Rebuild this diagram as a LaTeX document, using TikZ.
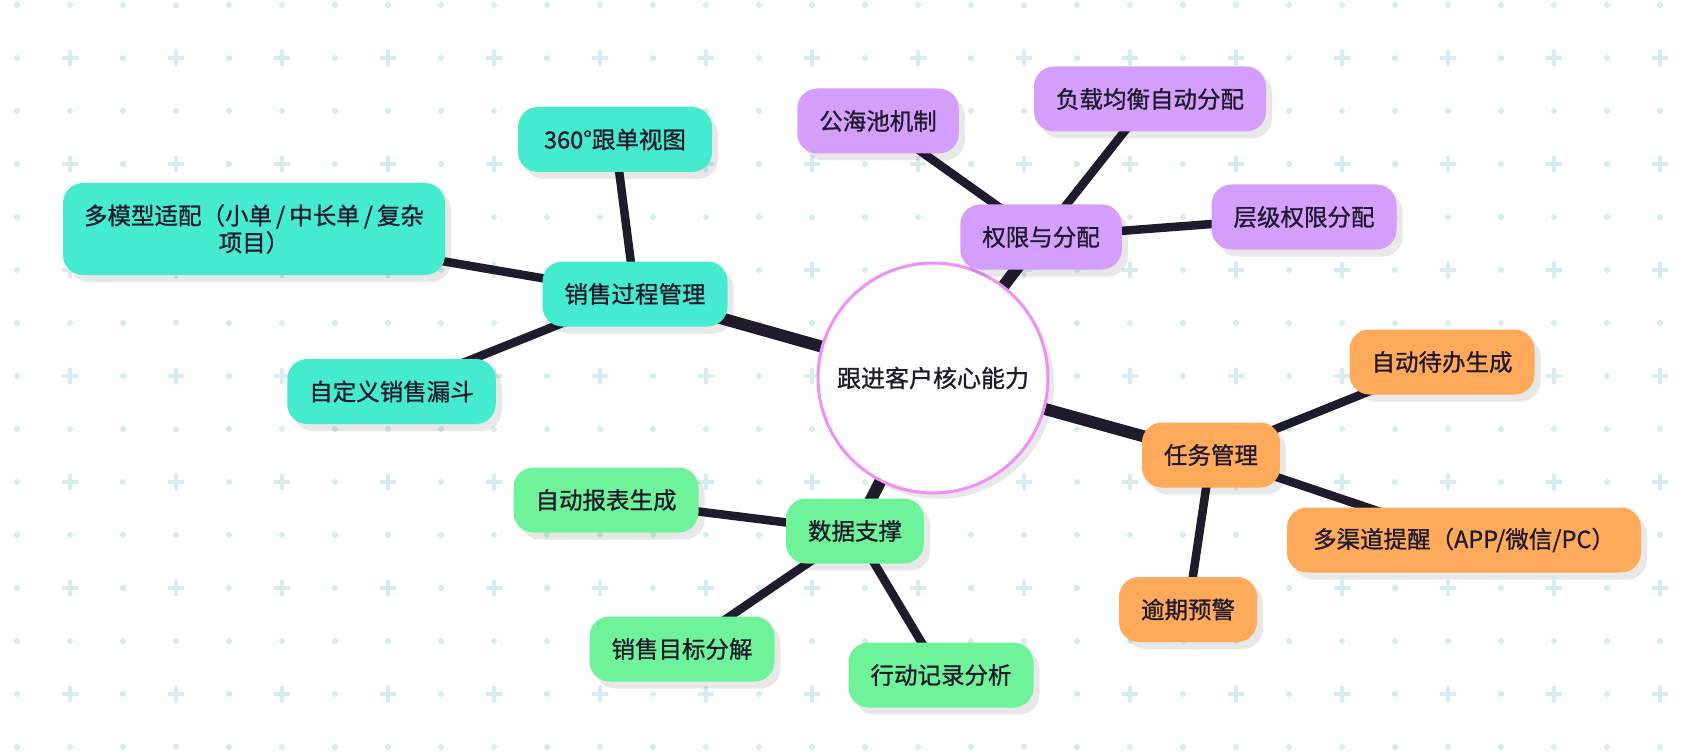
\documentclass[tikz,border=0pt]{standalone}
\usepackage{fontspec}
\setmainfont{Noto Sans CJK SC}[FakeBold=1.0]
\usetikzlibrary{shadows}
\definecolor{ink}{HTML}{1F1B2D}
\definecolor{gridc}{HTML}{D6ECF0}
\definecolor{cteal}{HTML}{45EBCF}
\definecolor{cpurple}{HTML}{D39EFC}
\definecolor{corange}{HTML}{FFAA5A}
\definecolor{cgreen}{HTML}{6EF39A}
\definecolor{cring}{HTML}{EE90F8}
\pgfdeclarelayer{grid}\pgfdeclarelayer{edges}
\pgfsetlayers{grid,edges,main}
\begin{document}
\begin{tikzpicture}[x=1pt,y=-1pt,
  box/.style={rounded corners=20pt, minimum height=65pt, inner xsep=22pt, inner ysep=4pt,
    font=\fontsize{23.5}{27}\selectfont, text=ink, align=center,
    drop shadow={shadow xshift=6pt, shadow yshift=-7pt, fill=black, opacity=0.09}},
  tealbox/.style={box, fill=cteal},
  purplebox/.style={box, fill=cpurple},
  orangebox/.style={box, fill=corange},
  greenbox/.style={box, fill=cgreen},
  mainedge/.style={draw=ink, line width=12pt},
  subedge/.style={draw=ink, line width=8.5pt}]
\useasboundingbox (0,0) rectangle (1702,754);
\begin{pgfonlayer}{grid}
\fill[white] (0,0) rectangle (1702,754);
\foreach \i in {0,...,31}{\foreach \j in {0,...,14}{
  \pgfmathsetmacro\px{17+53*\i}
  \pgfmathsetmacro\py{5+53*\j}
  \pgfmathtruncatemacro\pl{mod(\i,2)*mod(\j,2)}
  \ifnum\pl=1
    \draw[gridc, line width=4pt, line cap=round] (\px-6.5,\py) -- (\px+6.5,\py) (\px,\py-6.5) -- (\px,\py+6.5);
  \else
    \fill[gridc] (\px,\py) circle (3pt);
  \fi
}}
\end{pgfonlayer}

\node[circle, minimum size=230pt, draw=cring, line width=3pt, fill=white, text=ink,
  font=\fontsize{24}{28}\selectfont,
  drop shadow={shadow xshift=6pt, shadow yshift=-6pt, fill=black, opacity=0.09}] (c) at (933,378) {跟进客户核心能力};

\node[tealbox] (sp) at (635,294) {销售过程管理};
\node[tealbox, minimum width=194pt] (s1) at (615,139.5) {360°跟单视图};
\node[tealbox, text width=340pt, inner xsep=21pt, minimum height=92pt] (s2) at (254,229) {多模型适配（小单\hspace{4pt}/\hspace{4pt}中长单\hspace{4pt}/\hspace{4pt}复杂\\项目）};
\node[tealbox] (s3) at (391.5,391.5) {自定义销售漏斗};

\node[purplebox] (q) at (1041,237) {权限与分配};
\node[purplebox] (q1) at (878,121) {公海池机制};
\node[purplebox] (q2) at (1150,99) {负载均衡自动分配};
\node[purplebox] (q3) at (1304,217) {层级权限分配};

\node[orangebox] (t) at (1211,455) {任务管理};
\node[orangebox] (t1) at (1442,362) {自动待办生成};
\node[orangebox, minimum width=354pt] (t2) at (1464,540) {多渠道提醒（APP/微信/PC）};
\node[orangebox] (t3) at (1188,609.5) {逾期预警};

\node[greenbox] (d) at (855,531) {数据支撑};
\node[greenbox] (d1) at (606,500) {自动报表生成};
\node[greenbox] (d2) at (682,649) {销售目标分解};
\node[greenbox] (d3) at (941,675) {行动记录分析};

\begin{pgfonlayer}{edges}
\path[mainedge] (c.center) -- (sp.center);
\path[mainedge] (c.center) -- (q.center);
\path[mainedge] (c.center) -- (t.center);
\path[mainedge] (c.center) -- (d.center);
\path[subedge] (sp.center) -- (s1.center);
\path[subedge] (sp.center) -- (s2.center);
\path[subedge] (sp.center) -- (s3.center);
\path[subedge] (q.center) -- (q1.center);
\path[subedge] (q.center) -- (q2.center);
\path[subedge] (q.center) -- (q3.center);
\path[subedge] (t.center) -- (t1.center);
\path[subedge] (t.center) -- (t2.center);
\path[subedge] (t.center) -- (t3.center);
\path[subedge] (d.center) -- (d1.center);
\path[subedge] (d.center) -- (d2.center);
\path[subedge] (d.center) -- (d3.center);
\end{pgfonlayer}
\end{tikzpicture}
\end{document}
